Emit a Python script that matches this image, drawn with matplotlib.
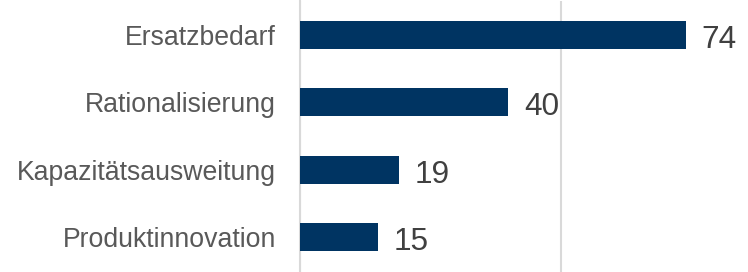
import matplotlib.pyplot as plt

# Daten
categories = ['Ersatzbedarf', 'Rationalisierung', 'Kapazitätsausweitung', 'Produktinnovation']
values = [74, 40, 19, 15]

plt.rcParams['font.family'] = ['Liberation Sans', 'DejaVu Sans']

fig = plt.figure(figsize=(7.48, 2.72), dpi=100)
ax = fig.add_axes([299.5 / 748, 0.0, 443.7 / 748, 0.995])

pos = range(len(categories))
bars = ax.barh(pos, values, height=0.42, color='#003462', zorder=3)

# Wertebeschriftung rechts neben den Balken
for bar, v in zip(bars, values):
    ax.annotate(str(v), (bar.get_width(), bar.get_y() + bar.get_height() / 2),
                xytext=(11.5, -9.4), textcoords='offset points',
                va='baseline', ha='left', fontsize=22.8, color='#404040')

ax.set_yticks(list(pos))
ax.set_yticklabels(categories, fontsize=19.2, color='#595959')
ax.tick_params(axis='y', length=0, pad=17)
ax.tick_params(axis='x', length=0, labelbottom=False)
ax.set_ylim(3.52, -0.5)
ax.set_xlim(0, 85)
ax.set_xticks([0, 50])
ax.grid(True, axis='x', color='#d9d9d9', linewidth=1.5, zorder=0)
for s in ['top', 'right', 'bottom']:
    ax.spines[s].set_visible(False)
ax.spines['left'].set_color('#d9d9d9')
ax.spines['left'].set_linewidth(1.5)

fig.savefig('out.png', dpi=100)
